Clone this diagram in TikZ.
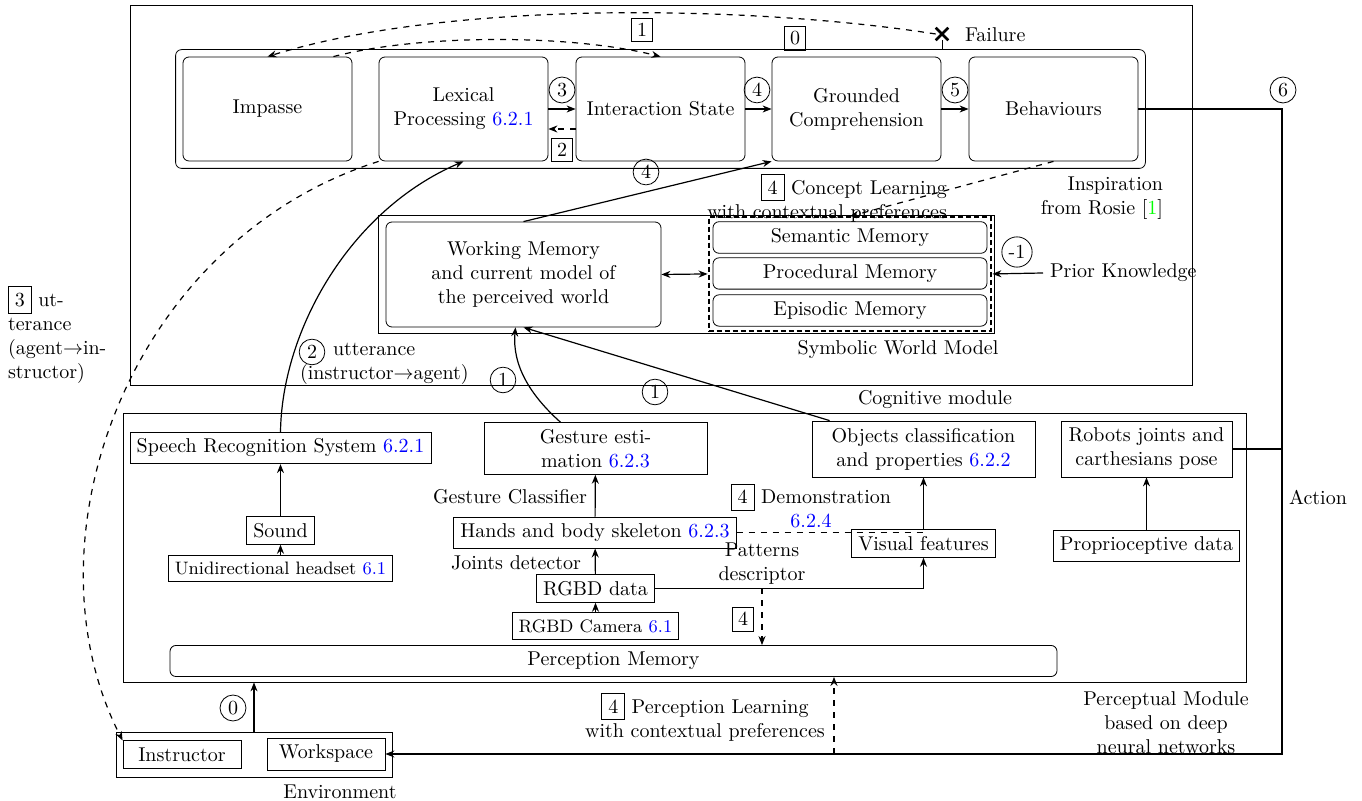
\documentclass[tikz,border=0pt]{standalone}
\usetikzlibrary{arrows.meta,fit,shapes.misc}
\newcommand{\bluenum}[1]{\textcolor{blue}{#1}}
\begin{document}
\begin{tikzpicture}[x=0.5pt,y=-0.5pt,
  >={Stealth[length=4.5pt,width=3.5pt]},
  bigbox/.style={draw,rounded corners=3pt,minimum width=84.5pt,minimum height=52pt,align=center},
  membox/.style={draw,rounded corners=3pt,minimum width=137pt,minimum height=15.5pt},
  pbox/.style={draw,inner sep=3.3pt},
  cnum/.style={draw,circle,inner sep=1.6pt},
  bnum/.style={draw,inner sep=2.6pt},
  conn/.style={semithick},
]
\useasboundingbox (0,0) rectangle (1362,801);

% big frames
\node[draw,minimum width=531pt,minimum height=190pt] (cog) at (661,195) {};
\node[draw,minimum width=561.5pt,minimum height=134.5pt] (perc) at (684.5,547.5) {};

% cognitive pipeline
\node[bigbox] (imp) at (267.5,109) {Impasse};
\node[bigbox] (lex) at (463.5,109) {Lexical\\Processing \bluenum{6.2.1}};
\node[bigbox] (inter) at (660.5,109) {Interaction State};
\node[bigbox] (ground) at (856.5,109) {Grounded\\Comprehension};
\node[bigbox] (behav) at (1053.5,109) {Behaviours};
\node[draw,rounded corners=3pt,fit=(imp)(behav),inner sep=3.5pt] (cont) {};

\node[cross out,draw,line width=1.3pt,minimum size=5pt,inner sep=0pt] (fail) at (942,34) {};
\node[anchor=west] (failt) at (958,35) {Failure};

\node[bnum] (n1) at (642,30) {1};
\node[bnum] (n0) at (795,38) {0};
\node[cnum] (c3) at (562,90) {3};
\node[bnum] (b2) at (562,150) {2};
\node[cnum] (c4a) at (757,90) {4};
\node[cnum] (c5) at (955,90) {5};
\node[cnum] (c4b) at (646,172) {4};

\node[anchor=east,align=right] (concept) at (954,198) {\fbox{4} Concept Learning\\with contextual preferences};
\node[anchor=east,align=right] (insp) at (1170,198) {Inspiration\\from Rosie [\textcolor{green}{1}]};

% symbolic world model
\node[draw,minimum width=308pt,minimum height=59pt] (sym) at (686,274) {};
\node[draw,rounded corners=3pt,minimum width=137.5pt,minimum height=52.5pt,align=center] (wm) at (523.5,274.5) {Working Memory\\and current model of\\the perceived world};
\node[membox] (sem) at (850,237.5) {Semantic Memory};
\node[membox] (proc) at (850,273.5) {Procedural Memory};
\node[membox] (epi) at (850,310.5) {Episodic Memory};
\node[draw,dashed,line width=1pt,dash pattern=on 2.5pt off 1.5pt,fit=(sem)(epi),inner sep=2pt] (mem) {};
\node (symt) at (898,350) {Symbolic World Model};
\node[cnum] (cm1) at (1017,252) {-1};
\node[anchor=west] (prior) at (1043,273) {Prior Knowledge};
\node (cogt) at (935,400) {Cognitive module};

% utterance labels
\node[cnum] (c2) at (312,352) {2};
\node[anchor=west,align=left] (utt) at (293,364) {\hspace*{16.5pt}utterance\\(instructor$\rightarrow$agent)};
\node[anchor=west,align=left] (u3) at (1,335) {\fbox{3} ut-\\terance\\(agent$\rightarrow$in-\\structor)};
\node[cnum] (c1a) at (503,380) {1};
\node[cnum] (c1b) at (655,392) {1};

% perceptual module
\node[pbox] (speech) at (280.5,448) {Speech Recognition System \bluenum{6.2.1}};
\node[pbox] (sound) at (280.5,530.5) {Sound};
\node[pbox,font=\small] (head) at (280.5,568.5) {Unidirectional headset \bluenum{6.1}};
\node[pbox,minimum width=111.5pt,minimum height=25.5pt,align=center] (gest) at (595.5,448.5) {Gesture esti-\\mation \bluenum{6.2.3}};
\node[anchor=east] (gc) at (594,497) {Gesture Classifier};
\node[pbox] (hands) at (595,532.5) {Hands and body skeleton \bluenum{6.2.3}};
\node[anchor=east] (jd) at (588,563) {Joints detector};
\node[pbox] (rgbd) at (595.5,588.5) {RGBD data};
\node[pbox,font=\small] (cam) at (595.5,626) {RGBD Camera \bluenum{6.1}};
\node[pbox,minimum width=111.5pt,minimum height=28pt,align=center] (obj) at (923.5,449) {Objects classification\\and properties \bluenum{6.2.2}};
\node[pbox] (vf) at (923.5,543.5) {Visual features};
\node[align=center] (demo) at (811,506) {\fbox{4} Demonstration\\\bluenum{6.2.4}};
\node[align=center] (pd) at (762,564) {Patterns\\descriptor};
\node[bnum] (b4c) at (743,619) {4};
\node[pbox,minimum width=85.5pt,minimum height=28pt,align=center] (rob) at (1146.5,449) {Robots joints and\\carthesians pose};
\node[pbox] (prop) at (1146.5,545.5) {Proprioceptive data};
\node[draw,rounded corners=3pt,minimum width=443.5pt,minimum height=15pt] (pm) at (613.5,661) {Perception Memory};
\node[align=center] (plearn) at (705,717) {\fbox{4} Perception Learning\\with contextual preferences};
\node[align=center] (pmod) at (1166,723) {Perceptual Module\\based on deep\\neural networks};
\node (act) at (1318,497) {Action};

% environment
\node[draw,minimum width=138pt,minimum height=22.5pt] (env) at (254,754.5) {};
\node[draw,minimum width=59pt,minimum height=13.5pt] (inst) at (182,754.5) {Instructor};
\node[draw,minimum width=59pt,minimum height=16pt] (work) at (326,754) {Workspace};
\node (envt) at (340,792) {Environment};
\node[cnum] (c0) at (233,708) {0};
\node[cnum] (c6) at (1283,90) {6};

\coordinate (a1) at (1282,754);
\coordinate (plc) at (834,754);

% connectors
\draw[conn,->] (lex) -- (inter);
\draw[conn,->,dashed] ([yshift=-10pt]inter.west) -- ([yshift=-10pt]lex.east);
\draw[conn,->] (inter) -- (ground);
\draw[conn,->] (ground) -- (behav);
\draw[conn,dashed,->] (fail.west) .. controls (750,5) and (450,0) .. (imp.north);
\draw[conn,dashed,->] ([xshift=-9.5pt]imp.north east) .. controls (420,34) and (570,34) .. (inter.north);
\draw (fail.south) -- (fail.south |- cont.north);
\draw[conn,->] (wm.north) -- (ground.south west);
\draw[conn,dashed,->] (behav.south) -- (mem.north);
\draw[conn,<->] (wm.east) -- (mem.west);
\draw[conn,->] (prior.west) -- (mem.east);
\draw[conn,->] (speech.north) .. controls (282,330) and (350,210) .. (lex.south);
\draw[conn,dashed,->] (lex.south west) .. controls (130,240) and (20,540) .. (inst.north west);
\draw[conn,->] ([xshift=-17.5pt]gest.north) .. controls (530,395) and (512,365) .. ([xshift=-4pt]wm.south);
\draw[conn,->] ([xshift=9pt]obj.north west) -- (wm.south);
\draw[conn,->] (sound) -- (speech);
\draw[->] (head) -- (sound);
\draw[conn,->] (hands) -- (gest);
\draw[conn,->] (rgbd) -- (hands);
\draw[->] (cam) -- (rgbd);
\draw[conn,->] (rgbd.east) -| (vf.south);
\draw[conn,->] (vf.north) -- (obj.south);
\draw[conn,dashed] (hands.east) -- (hands.east -| vf.north);
\draw[conn,dashed,->] (pd.south |- rgbd.east) -- (pd.south |- pm.north);
\draw[conn,->] (prop) -- (rob);
\draw[conn,->] (behav.east) -| (a1) -- (work.east);
\draw[conn] (rob.east) -- (rob.east -| a1);
\draw[conn,->] (env.north) -- (env.north |- perc.south);
\draw[conn,dashed,->] (plc) -- (plc |- pm.south);
\end{tikzpicture}
\end{document}
